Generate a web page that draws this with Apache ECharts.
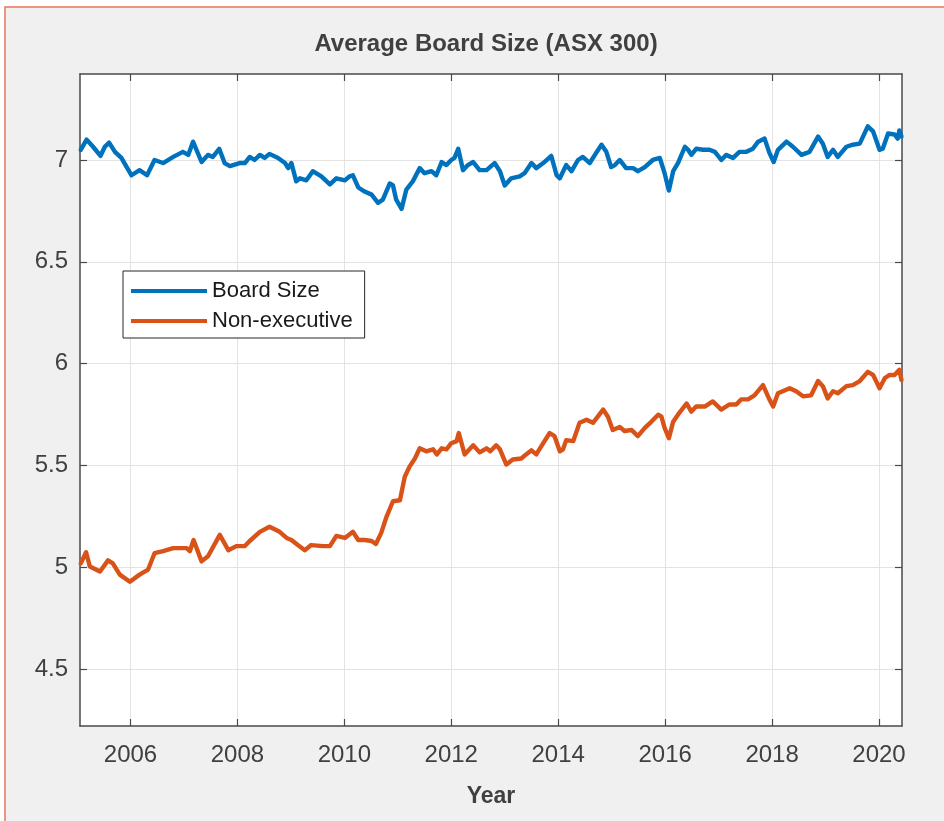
<!DOCTYPE html>
<html>
<head>
<meta charset="utf-8">
<title>Average Board Size (ASX 300)</title>
<script src="https://cdn.jsdelivr.net/npm/echarts@6/dist/echarts.min.js"></script>
<style>
    html, body { margin: 0; padding: 0; background: #fff; }
    #chart { width: 944px; height: 821px; }
</style>
</head>
<body>
<div id="chart"></div>
<script>
// axis ticks
var yearTicks = [2006, 2008, 2010, 2012, 2014, 2016, 2018, 2020];
var valueTicks = [4.5, 5, 5.5, 6, 6.5, 7];

// Board Size
var boardYears = [
    2005.07, 2005.18, 2005.30, 2005.44, 2005.52, 2005.60, 2005.71, 2005.83, 2005.93, 2006.02,
    2006.17, 2006.31, 2006.45, 2006.61, 2006.80, 2006.98, 2007.08, 2007.17, 2007.33, 2007.45,
    2007.54, 2007.66, 2007.76, 2007.86, 2008.04, 2008.14, 2008.23, 2008.32, 2008.42, 2008.51,
    2008.60, 2008.76, 2008.89, 2008.95, 2009.01, 2009.10, 2009.17, 2009.29, 2009.41, 2009.57,
    2009.73, 2009.85, 2010.01, 2010.10, 2010.16, 2010.26, 2010.38, 2010.51, 2010.63, 2010.72,
    2010.85, 2010.91, 2010.97, 2011.07, 2011.16, 2011.28, 2011.41, 2011.50, 2011.63, 2011.72,
    2011.82, 2011.91, 2012.00, 2012.06, 2012.13, 2012.22, 2012.31, 2012.41, 2012.53, 2012.66,
    2012.81, 2012.91, 2013.00, 2013.12, 2013.28, 2013.37, 2013.50, 2013.59, 2013.72, 2013.87,
    2013.97, 2014.03, 2014.15, 2014.25, 2014.37, 2014.46, 2014.59, 2014.71, 2014.81, 2014.90,
    2014.99, 2015.06, 2015.15, 2015.27, 2015.40, 2015.49, 2015.62, 2015.77, 2015.90, 2015.99,
    2016.07, 2016.15, 2016.24, 2016.37, 2016.43, 2016.49, 2016.58, 2016.71, 2016.83, 2016.93,
    2017.05, 2017.14, 2017.27, 2017.39, 2017.52, 2017.64, 2017.74, 2017.86, 2017.95, 2018.03,
    2018.11, 2018.27, 2018.39, 2018.55, 2018.70, 2018.86, 2018.95, 2019.04, 2019.14, 2019.23,
    2019.39, 2019.51, 2019.64, 2019.79, 2019.89, 2020.01, 2020.07, 2020.17, 2020.29, 2020.35,
    2020.38, 2020.42
];
var boardSize = [
    7.05, 7.10, 7.065, 7.02, 7.065, 7.085, 7.04, 7.01, 6.965, 6.925,
    6.95, 6.925, 7.00, 6.985, 7.015, 7.04, 7.025, 7.09, 6.99, 7.025,
    7.015, 7.055, 6.985, 6.97, 6.985, 6.985, 7.015, 7.00, 7.025, 7.01,
    7.03, 7.01, 6.985, 6.96, 6.985, 6.895, 6.91, 6.90, 6.945, 6.92,
    6.88, 6.91, 6.90, 6.92, 6.925, 6.865, 6.845, 6.83, 6.79, 6.805,
    6.885, 6.875, 6.805, 6.76, 6.855, 6.895, 6.96, 6.935, 6.945, 6.925,
    6.99, 6.975, 7.00, 7.01, 7.055, 6.95, 6.975, 6.99, 6.95, 6.95,
    6.985, 6.945, 6.875, 6.91, 6.92, 6.935, 6.985, 6.96, 6.985, 7.02,
    6.925, 6.91, 6.975, 6.945, 7.00, 7.015, 6.985, 7.035, 7.075, 7.04,
    6.965, 6.975, 7.00, 6.96, 6.96, 6.945, 6.965, 7.00, 7.01, 6.935,
    6.85, 6.945, 6.985, 7.065, 7.05, 7.025, 7.055, 7.05, 7.05, 7.04,
    7.00, 7.025, 7.01, 7.04, 7.04, 7.055, 7.09, 7.105, 7.035, 6.99,
    7.05, 7.09, 7.065, 7.025, 7.04, 7.115, 7.08, 7.015, 7.05, 7.015,
    7.065, 7.075, 7.08, 7.165, 7.14, 7.05, 7.055, 7.13, 7.125, 7.105,
    7.145, 7.115
];

// Non-executive
var nonExecYears = [
    2005.07, 2005.17, 2005.24, 2005.43, 2005.58, 2005.67, 2005.80, 2005.99, 2006.17, 2006.33,
    2006.45, 2006.61, 2006.80, 2007.05, 2007.11, 2007.18, 2007.33, 2007.45, 2007.67, 2007.83,
    2007.98, 2008.14, 2008.23, 2008.42, 2008.60, 2008.79, 2008.92, 2009.01, 2009.13, 2009.26,
    2009.38, 2009.60, 2009.73, 2009.85, 2010.01, 2010.16, 2010.26, 2010.38, 2010.51, 2010.59,
    2010.69, 2010.79, 2010.91, 2011.04, 2011.13, 2011.22, 2011.32, 2011.41, 2011.53, 2011.66,
    2011.73, 2011.82, 2011.91, 2012.00, 2012.10, 2012.14, 2012.25, 2012.41, 2012.53, 2012.66,
    2012.73, 2012.84, 2012.91, 2013.03, 2013.15, 2013.31, 2013.40, 2013.50, 2013.59, 2013.72,
    2013.84, 2013.93, 2014.03, 2014.09, 2014.15, 2014.28, 2014.40, 2014.53, 2014.65, 2014.84,
    2014.93, 2015.02, 2015.15, 2015.24, 2015.37, 2015.49, 2015.62, 2015.74, 2015.87, 2015.93,
    2015.99, 2016.07, 2016.15, 2016.24, 2016.40, 2016.49, 2016.58, 2016.74, 2016.89, 2017.05,
    2017.20, 2017.33, 2017.42, 2017.55, 2017.67, 2017.83, 2017.95, 2018.02, 2018.11, 2018.33,
    2018.45, 2018.58, 2018.73, 2018.86, 2018.95, 2019.04, 2019.14, 2019.23, 2019.39, 2019.51,
    2019.64, 2019.79, 2019.89, 2020.01, 2020.11, 2020.20, 2020.29, 2020.38, 2020.42
];
var nonExec = [
    5.02, 5.075, 5.005, 4.98, 5.035, 5.02, 4.965, 4.93, 4.965, 4.99,
    5.07, 5.08, 5.095, 5.095, 5.08, 5.135, 5.03, 5.055, 5.16, 5.085,
    5.105, 5.105, 5.13, 5.175, 5.20, 5.175, 5.145, 5.135, 5.11, 5.085,
    5.11, 5.105, 5.105, 5.155, 5.145, 5.175, 5.135, 5.135, 5.13, 5.115,
    5.17, 5.25, 5.325, 5.33, 5.445, 5.495, 5.535, 5.585, 5.57, 5.58,
    5.555, 5.585, 5.58, 5.61, 5.62, 5.66, 5.555, 5.60, 5.565, 5.585,
    5.57, 5.60, 5.58, 5.505, 5.53, 5.535, 5.555, 5.575, 5.555, 5.61,
    5.66, 5.645, 5.57, 5.58, 5.625, 5.62, 5.71, 5.725, 5.71, 5.775,
    5.74, 5.675, 5.69, 5.67, 5.675, 5.645, 5.685, 5.715, 5.75, 5.74,
    5.685, 5.635, 5.715, 5.75, 5.805, 5.765, 5.79, 5.79, 5.815, 5.775,
    5.80, 5.80, 5.825, 5.825, 5.845, 5.895, 5.825, 5.79, 5.855, 5.88,
    5.865, 5.84, 5.845, 5.915, 5.89, 5.83, 5.865, 5.855, 5.89, 5.895,
    5.915, 5.96, 5.945, 5.88, 5.93, 5.945, 5.945, 5.97, 5.92
];

// axis limits (tight, as in the picture)
var xMin = 2005.056, xMax = 2020.43;
var yMin = 4.222, yMax = 7.422;

function pairs(xs, ys) {
    return xs.map(function(x, i) { return [x, ys[i]]; });
}

// a boxed axis: labelled on bottom/left, ticks only on top/right
function xAxisOf(pos, showLabel) {
    return {
        type: 'value', position: pos, min: xMin, max: xMax,
        axisLine: { show: true, onZero: false, lineStyle: { color: '#4a4a4a', width: 1.5 } },
        axisTick: { show: true, inside: true, length: 7, customValues: yearTicks,
                    lineStyle: { color: '#4a4a4a', width: 1.2 } },
        axisLabel: { show: showLabel, customValues: yearTicks, margin: 17,
                     fontFamily: 'Liberation Sans', fontSize: 24, color: '#404040',
                     formatter: function(v) { return String(v); } },
        splitLine: { show: showLabel, lineStyle: { color: '#e3e3e3', width: 1 } },
        name: showLabel ? 'Year' : '', nameLocation: 'middle', nameGap: 59,
        nameTextStyle: { fontFamily: 'Liberation Sans', fontSize: 23, fontWeight: 'bold', color: '#404040' }
    };
}

function yAxisOf(pos, showLabel) {
    return {
        type: 'value', position: pos, min: yMin, max: yMax,
        axisLine: { show: true, onZero: false, lineStyle: { color: '#4a4a4a', width: 1.5 } },
        axisTick: { show: true, inside: true, length: 7, customValues: valueTicks,
                    lineStyle: { color: '#4a4a4a', width: 1.2 } },
        axisLabel: { show: showLabel, customValues: valueTicks, margin: 12,
                     fontFamily: 'Liberation Sans', fontSize: 24, color: '#404040' },
        splitLine: { show: showLabel, lineStyle: { color: '#e3e3e3', width: 1 } }
    };
}

var myChart = echarts.init(document.getElementById('chart'), null, { renderer: 'canvas' });

var options = {
    backgroundColor: '#ffffff',
    animation: false,
    graphic: [{
        // grey figure background with the salmon frame on top/left
        type: 'rect', z: -100, silent: true,
        shape: { x: 5, y: 7, width: 1000, height: 900 },
        style: { fill: '#f0f0f0', stroke: '#e8745f', lineWidth: 1.5 }
    }],
    title: {
        text: 'Average Board Size (ASX 300)',
        left: 481, top: 27, textAlign: 'center',
        textStyle: { fontFamily: 'Liberation Sans', fontSize: 24, fontWeight: 'bold', color: '#404040' }
    },
    grid: {
        left: 80, right: 42, top: 74, bottom: 95,
        show: true, backgroundColor: '#ffffff', borderWidth: 0
    },
    legend: {
        orient: 'vertical', left: 123, top: 271,
        padding: [9, 12, 6, 8], itemGap: 8,
        itemWidth: 76, itemHeight: 4, icon: 'rect',
        backgroundColor: '#ffffff', borderColor: '#262626', borderWidth: 1, borderRadius: 0,
        textStyle: { fontFamily: 'Liberation Sans', fontSize: 22, color: '#1a1a1a' },
        data: ['Board Size', 'Non-executive']
    },
    xAxis: [xAxisOf('bottom', true), xAxisOf('top', false)],
    yAxis: [yAxisOf('left', true), yAxisOf('right', false)],
    series: [
        {
            name: 'Board Size', type: 'line', showSymbol: false, symbol: 'none',
            data: pairs(boardYears, boardSize),
            lineStyle: { color: '#0072BD', width: 4.4, join: 'round', cap: 'round' },
            itemStyle: { color: '#0072BD' }
        },
        {
            name: 'Non-executive', type: 'line', showSymbol: false, symbol: 'none',
            data: pairs(nonExecYears, nonExec),
            lineStyle: { color: '#D95319', width: 4.4, join: 'round', cap: 'round' },
            itemStyle: { color: '#D95319' }
        }
    ]
};

myChart.setOption(options);
</script>
</body>
</html>
